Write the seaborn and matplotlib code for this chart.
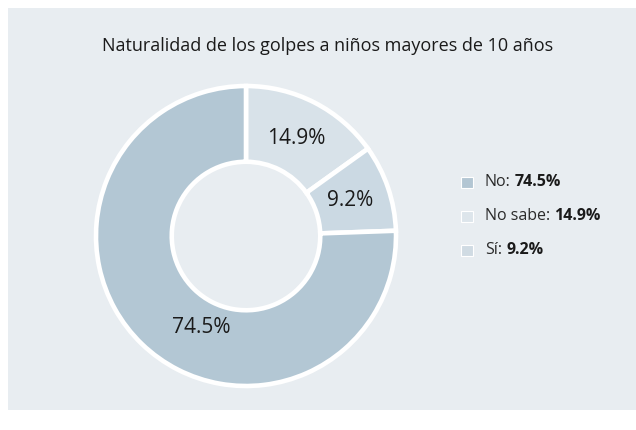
import numpy as np
import matplotlib.pyplot as plt
from matplotlib.patches import Rectangle
import seaborn as sns

categories = ["No", "No sabe", "Sí"]
values = [74.5, 14.9, 9.2]
colors = ["#b3c7d4", "#d8e2e9", "#cbd9e3"]
legend_colors = ["#b3c6d3", "#dde5eb", "#d0dbe3"]
title = "Naturalidad de los golpes a niños mayores de 10 años"
pie_order = [1, 2, 0]  # clockwise from 12 o'clock: No sabe, Sí, No

sns.set_style("white")
plt.rcParams["font.family"] = ["Open Sans", "DejaVu Sans"]

W, H = 636, 430
fig = plt.figure(figsize=(W / 100, H / 100), dpi=100)
fig.patch.set_facecolor("white")
fig.patches.append(Rectangle((8 / W, 20 / H), 1 - 8 / W, 1 - 28 / H, transform=fig.transFigure,
                             facecolor="#e8edf1", edgecolor="none", zorder=-5))

cx, cy, r = 246, 236, 150
ax = fig.add_axes([(cx - r) / W, (H - cy - r) / H, 2 * r / W, 2 * r / H])
ax.set_facecolor("none")
wedges, texts, autotexts = ax.pie(
    [values[i] for i in pie_order], colors=[colors[i] for i in pie_order],
    startangle=90, counterclock=False,
    autopct="%.1f%%", pctdistance=0.73, radius=1.0,
    wedgeprops=dict(width=0.505, edgecolor="white", linewidth=3.3),
    textprops=dict(fontsize=15, color="#1a1a1a"),
)
for t, i in zip(autotexts, pie_order):
    t.set_text(f"{values[i]:.1f}%")
# the big slice label sits lower than its mid-angle
ang = np.deg2rad(244)
autotexts[2].set_position((0.68 * np.cos(ang), 0.68 * np.sin(ang)))
ax.set_xlim(-1, 1)
ax.set_ylim(-1, 1)
ax.set_aspect("equal")
ax.axis("off")

fig.text(328 / W, 1 - 46 / H, title, ha="center", va="center", fontsize=13, color="#1a1a1a")

# legend with bold values
renderer = fig.canvas.get_renderer()
for i, (cat, val) in enumerate(zip(categories, values)):
    y = 182 + i * 34
    fig.patches.append(Rectangle((461 / W, 1 - (y + 5.5) / H), 12 / W, 11 / H, transform=fig.transFigure,
                                 facecolor=legend_colors[i], edgecolor="white", linewidth=0.8))
    t = fig.text(485 / W, 1 - y / H, f"{cat}:", ha="left", va="center", fontsize=11.5, color="#2a2a2a")
    bb = t.get_window_extent(renderer)
    fig.text((bb.x1 + 4) / W, 1 - y / H, f"{val:.1f}%", ha="left", va="center", fontsize=11.5,
             fontweight="bold", color="#1a1a1a")

fig.savefig("out.png", dpi=100)
